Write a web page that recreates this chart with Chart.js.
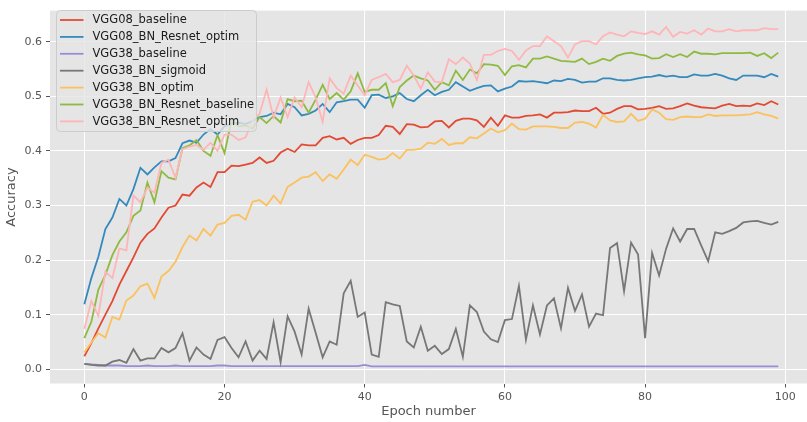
<!DOCTYPE html>
<html>
<head>
<meta charset="utf-8">
<script src="https://cdn.jsdelivr.net/npm/chart.js@4.4.1/dist/chart.umd.min.js"></script>
<style>
  html, body { margin: 0; padding: 0; background: #ffffff; }
  #wrap { width: 807px; height: 422px; }
</style>
</head>
<body>
<div id="wrap"><canvas id="c" width="807" height="422"></canvas></div>
<script>
// Epoch indices (x axis)
const epochs = [
  0,1,2,3,4,5,6,7,8,9,10,11,12,13,14,15,16,17,18,19,
  20,21,22,23,24,25,26,27,28,29,30,31,32,33,34,35,36,37,38,39,
  40,41,42,43,44,45,46,47,48,49,50,51,52,53,54,55,56,57,58,59,
  60,61,62,63,64,65,66,67,68,69,70,71,72,73,74,75,76,77,78,79,
  80,81,82,83,84,85,86,87,88,89,90,91,92,93,94,95,96,97,98,99
];

const seriesNames = [
  "VGG08_baseline",
  "VGG08_BN_Resnet_optim",
  "VGG38_baseline",
  "VGG38_BN_sigmoid",
  "VGG38_BN_optim",
  "VGG38_BN_Resnet_baseline",
  "VGG38_BN_Resnet_optim"
];

const vgg08Baseline = [
  .024,.048,.075,.100,.125,.155,.180,.205,.232,.248,
  .258,.278,.296,.300,.320,.318,.333,.342,.334,.361,
  .361,.373,.372,.375,.378,.388,.378,.382,.397,.404,
  .398,.412,.410,.410,.424,.427,.421,.424,.413,.420,
  .424,.424,.429,.446,.444,.431,.449,.448,.443,.444,
  .454,.455,.443,.455,.459,.459,.456,.444,.461,.446,
  .465,.461,.461,.464,.465,.467,.461,.470,.470,.471,
  .474,.473,.473,.479,.468,.470,.477,.482,.482,.476,
  .477,.479,.482,.477,.478,.482,.487,.483,.480,.479,
  .478,.483,.486,.482,.483,.482,.487,.484,.491,.485
];

const vgg08BnResnetOptim = [
  .119,.167,.206,.257,.278,.312,.300,.330,.369,.357,
  .370,.381,.381,.387,.414,.419,.415,.430,.440,.430,
  .445,.450,.452,.449,.455,.462,.464,.470,.467,.486,
  .480,.465,.468,.474,.486,.471,.489,.491,.494,.494,
  .479,.502,.503,.497,.500,.506,.495,.491,.502,.512,
  .502,.508,.512,.526,.518,.510,.515,.519,.520,.509,
  .514,.518,.528,.527,.528,.526,.524,.529,.528,.532,
  .530,.525,.527,.527,.533,.533,.530,.529,.530,.533,
  .535,.536,.539,.536,.538,.535,.535,.540,.538,.538,
  .541,.538,.533,.530,.538,.538,.538,.535,.541,.536
];

const vgg38Baseline = [
  .010,.009,.008,.007,.007,.007,.006,.006,.006,.007,
  .006,.006,.006,.007,.006,.006,.006,.006,.006,.007,
  .007,.006,.006,.006,.006,.006,.006,.006,.006,.006,
  .006,.006,.006,.006,.006,.006,.006,.006,.006,.006,
  .008,.0055,.0055,.0055,.0055,.0055,.0055,.0055,.0055,.0055,
  .0055,.0055,.0055,.0055,.0055,.0055,.0055,.0055,.0055,.0055,
  .0055,.0055,.0055,.0055,.0055,.0055,.0055,.0055,.0055,.0055,
  .0055,.0055,.0055,.0055,.0055,.0055,.0055,.0055,.0055,.0055,
  .0055,.0055,.0055,.0055,.0055,.0055,.0055,.0055,.0055,.0055,
  .0055,.0055,.0055,.0055,.0055,.0055,.0055,.0055,.0055,.0055
];

const vgg38BnSigmoid = [
  .010,.008,.007,.007,.014,.017,.012,.037,.016,.020,
  .020,.039,.031,.039,.066,.016,.040,.027,.019,.054,
  .059,.039,.022,.051,.016,.034,.019,.086,.013,.097,
  .069,.027,.111,.067,.022,.051,.045,.139,.162,.096,
  .104,.027,.023,.123,.119,.116,.051,.040,.078,.034,
  .043,.028,.037,.074,.023,.117,.105,.069,.055,.050,
  .090,.092,.153,.054,.117,.064,.117,.130,.075,.149,
  .107,.137,.078,.102,.099,.222,.231,.143,.232,.210,
  .057,.213,.172,.221,.258,.234,.257,.257,.227,.198,
  .251,.248,.253,.259,.269,.271,.272,.268,.265,.270
];

const vgg38BnOptim = [
  .031,.049,.066,.058,.096,.091,.126,.135,.152,.157,
  .131,.170,.180,.197,.224,.245,.236,.257,.245,.265,
  .268,.281,.283,.274,.307,.310,.300,.318,.304,.334,
  .342,.351,.353,.361,.345,.357,.349,.366,.384,.374,
  .393,.389,.384,.386,.396,.386,.402,.402,.404,.415,
  .413,.422,.411,.414,.414,.425,.423,.432,.441,.434,
  .438,.450,.440,.439,.445,.445,.445,.444,.442,.442,
  .452,.453,.450,.443,.466,.456,.453,.454,.468,.455,
  .459,.476,.470,.458,.457,.462,.463,.462,.462,.467,
  .464,.465,.465,.465,.466,.467,.471,.467,.464,.459
];

const vgg38BnResnetBaseline = [
  .057,.087,.146,.173,.209,.234,.251,.281,.291,.342,
  .306,.363,.351,.348,.405,.410,.420,.400,.391,.429,
  .396,.456,.445,.447,.441,.462,.451,.464,.452,.495,
  .491,.492,.470,.494,.521,.495,.506,.494,.509,.542,
  .508,.512,.512,.524,.482,.517,.529,.538,.533,.529,
  .512,.526,.520,.547,.530,.549,.542,.559,.558,.556,
  .539,.555,.557,.553,.569,.569,.573,.569,.565,.564,
  .563,.569,.559,.563,.569,.565,.574,.578,.580,.577,
  .575,.569,.570,.577,.572,.577,.572,.582,.578,.578,
  .577,.579,.579,.579,.579,.580,.574,.579,.570,.580
];

const vgg38BnResnetOptim = [
  .074,.125,.098,.179,.167,.221,.218,.318,.306,.333,
  .324,.378,.384,.351,.403,.408,.411,.402,.415,.400,
  .430,.430,.420,.425,.455,.468,.512,.462,.498,.462,
  .498,.480,.526,.498,.453,.533,.515,.505,.538,.520,
  .502,.530,.535,.541,.526,.530,.556,.538,.514,.544,
  .527,.526,.568,.559,.571,.560,.530,.576,.576,.583,
  .587,.583,.567,.584,.592,.592,.610,.601,.592,.571,
  .595,.601,.601,.595,.610,.617,.613,.610,.619,.616,
  .614,.619,.613,.627,.609,.618,.615,.621,.613,.624,
  .619,.619,.623,.619,.621,.621,.621,.625,.623,.623
];

const yTicks = [0.0, 0.1, 0.2, 0.3, 0.4, 0.5, 0.6];
const xTicks = [0, 20, 40, 60, 80, 100];

const seriesValues = [
  vgg08Baseline, vgg08BnResnetOptim, vgg38Baseline, vgg38BnSigmoid,
  vgg38BnOptim, vgg38BnResnetBaseline, vgg38BnResnetOptim
];
const colors = ["#E24A33", "#348ABD", "#988ED5", "#777777", "#FBC15E", "#8EBA42", "#FFB5B8"];

const FONT = "'DejaVu Sans', sans-serif";
const TEXT = "#555555";

const datasets = seriesNames.map((name, i) => ({
  label: name,
  data: epochs.map((e, k) => ({ x: e, y: seriesValues[i][k] })),
  borderColor: colors[i],
  backgroundColor: colors[i],
  borderWidth: 1.8,
  pointRadius: 0,
  tension: 0,
  fill: false,
  order: seriesNames.length - i   // later series drawn on top
}));

// Grey panel behind the plot area
const panelBg = {
  id: "panelBg",
  beforeDraw(chart) {
    const { ctx, chartArea: a } = chart;
    ctx.save();
    ctx.fillStyle = "#ffffff";
    ctx.fillRect(0, 0, chart.width, chart.height);
    ctx.fillStyle = "#E5E5E5";
    ctx.fillRect(a.left, a.top, a.right - a.left, a.bottom - a.top);
    ctx.restore();
  }
};

// Legend box in the upper-left corner of the panel
const panelLegend = {
  id: "panelLegend",
  afterDatasetsDraw(chart) {
    const ctx = chart.ctx;
    const x0 = 56.5, y0 = 10.5, w = 200, h = 121, r = 4;
    ctx.save();
    ctx.beginPath();
    ctx.moveTo(x0 + r, y0);
    ctx.lineTo(x0 + w - r, y0);
    ctx.arcTo(x0 + w, y0, x0 + w, y0 + r, r);
    ctx.lineTo(x0 + w, y0 + h - r);
    ctx.arcTo(x0 + w, y0 + h, x0 + w - r, y0 + h, r);
    ctx.lineTo(x0 + r, y0 + h);
    ctx.arcTo(x0, y0 + h, x0, y0 + h - r, r);
    ctx.lineTo(x0, y0 + r);
    ctx.arcTo(x0, y0, x0 + r, y0, r);
    ctx.closePath();
    ctx.fillStyle = "rgba(229,229,229,0.8)";
    ctx.fill();
    ctx.strokeStyle = "#cccccc";
    ctx.lineWidth = 1;
    ctx.stroke();

    ctx.font = "11.5px " + FONT;
    ctx.textBaseline = "middle";
    ctx.textAlign = "left";
    chart.data.datasets.forEach((ds, i) => {
      const cy = 20 + 16.9 * i;
      ctx.beginPath();
      ctx.moveTo(60, cy);
      ctx.lineTo(83.5, cy);
      ctx.strokeStyle = ds.borderColor;
      ctx.lineWidth = 1.8;
      ctx.stroke();
      ctx.fillStyle = "#1a1a1a";
      ctx.fillText(ds.label, 92.5, cy + 0.5);
    });
    ctx.restore();
  }
};

new Chart(document.getElementById("c"), {
  type: "line",
  data: { datasets },
  options: {
    responsive: false,
    devicePixelRatio: 1,
    animation: false,
    events: [],
    layout: { padding: { top: 5.5, right: 0, bottom: 0, left: 0 } },
    plugins: { legend: { display: false }, tooltip: { enabled: false } },
    scales: {
      x: {
        type: "linear",
        min: -4.9,
        max: 103.1,
        afterFit(scale) { scale.height = 38.5; },
        afterBuildTicks(scale) { scale.ticks = xTicks.map(v => ({ value: v })); },
        ticks: {
          color: TEXT,
          font: { family: FONT, size: 11 },
          padding: 3,
          maxRotation: 0,
          autoSkip: false,
          callback: v => String(v)
        },
        grid: { color: "#ffffff", lineWidth: 1, tickColor: TEXT, tickLength: 4 },
        border: { display: false },
        title: {
          display: true,
          text: "Epoch number",
          color: TEXT,
          font: { family: FONT, size: 13 },
          padding: { top: 0, bottom: 3 }
        }
      },
      y: {
        type: "linear",
        min: -0.026,
        max: 0.657,
        afterFit(scale) { scale.width = 50; },
        afterBuildTicks(scale) { scale.ticks = yTicks.map(v => ({ value: v })); },
        ticks: {
          color: TEXT,
          font: { family: FONT, size: 11 },
          padding: 4,
          callback: v => Number(v).toFixed(1)
        },
        grid: { color: "#ffffff", lineWidth: 1, tickColor: TEXT, tickLength: 4 },
        border: { display: false },
        title: {
          display: true,
          text: "Accuracy",
          color: TEXT,
          font: { family: FONT, size: 13 },
          padding: { top: 4, bottom: 4 }
        }
      }
    }
  },
  plugins: [panelBg, panelLegend]
});
</script>
</body>
</html>
